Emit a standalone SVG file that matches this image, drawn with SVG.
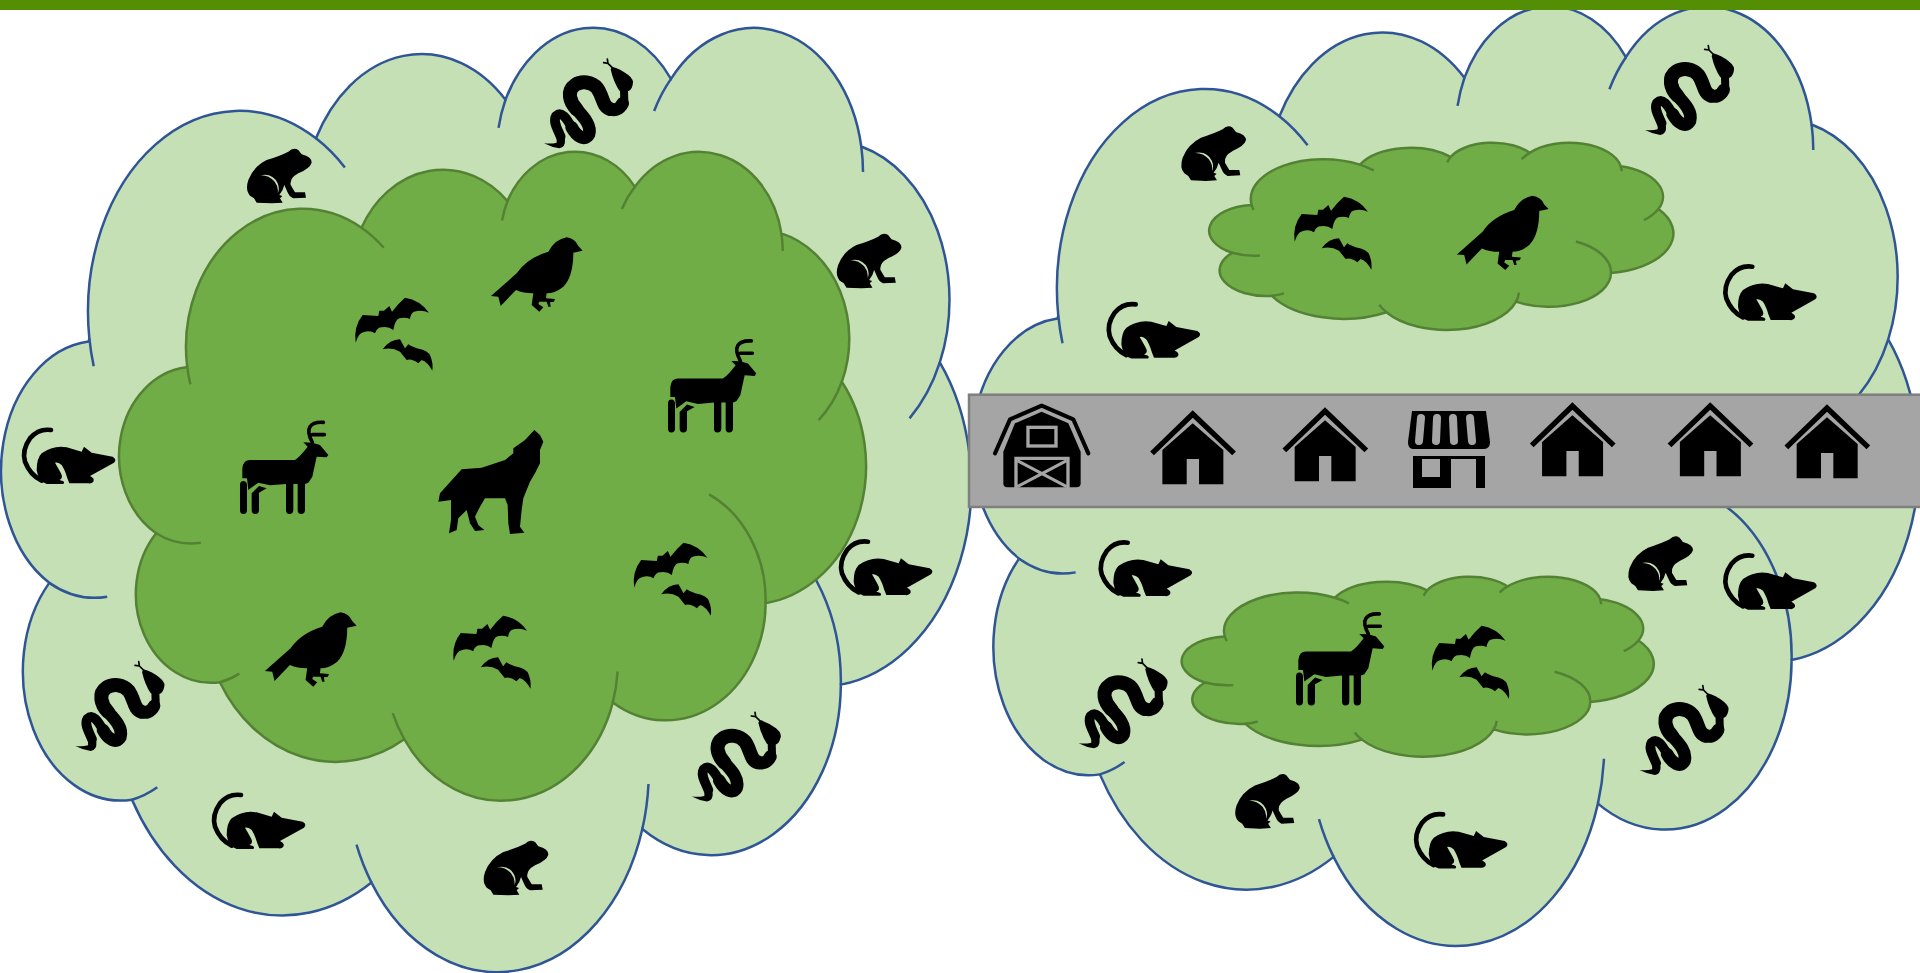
<svg xmlns="http://www.w3.org/2000/svg" xmlns:xlink="http://www.w3.org/1999/xlink" width="1920" height="973" viewBox="0 0 1920 973">
<style>
.cl path{vector-effect:non-scaling-stroke;stroke-width:2.5}
.cl .ln{fill:none}
.outer{fill:#C5E0B4;stroke:#2F5597}
.inner{fill:#70AD47;stroke:#548235}
.k{fill:#000;fill-rule:evenodd}
.ks{fill:none;stroke:#000;stroke-linecap:round;stroke-linejoin:round}
.gs{fill:none;stroke:#A5A5A5}
</style>
<defs>
<g id="cloud" class="cl">
<path d="M3900,14370A6753 9190 0 0 1 14002,5200A5333 7267 0 0 1 22453,3430A4365 5945 0 0 1 29830,2479A4857 6595 0 0 1 38314,5576A5333 7273 0 0 1 41815,15459A6775 9220 0 0 1 37402,30203A5785 7867 0 0 1 28553,36813A6752 9215 0 0 1 16477,39263A7720 10543 0 0 1 5801,35468A4360 5918 0 0 1 2112,25545A4345 5945 0 0 1 3861,14500Z"/>
<path class="ln" d="M4693,26177A4345 5945 0 0 1 2112,25545M6928,34899A4360 5918 0 0 1 5801,35468M16477,39263A6752 9215 0 0 1 15809,37524M28827,34751A6752 9215 0 0 1 28553,36813M34129,22954A5785 7867 0 0 1 37402,30203M41815,15459A5333 7273 0 0 1 40466,18017M38314,5576A4857 6595 0 0 1 38391,6745M29078,3952A4857 6595 0 0 1 29830,2479M22141,4720A4365 5945 0 0 1 22453,3430M14002,5200A6753 9190 0 0 1 15291,6534M4094,15634A6753 9190 0 0 1 3900,14370"/>
</g>
<g id="snake" transform="scale(.3333)">
<path class="k" d="M276,80Q300,86 325,105Q344,120 338,135Q334,152 322,154L298,152Q280,125 272,88Z"/>
<path class="ks" stroke-width="5" d="M276,82L264,70L262,57M264,70L251,68"/>
<path class="ks" stroke-width="24" d="M312,150L313,185"/>
<path class="ks" stroke-width="38" d="M308,190C298,210 282,212 270,207"/>
<path class="ks" stroke-width="42" d="M270,207C247,200 250,170 232,145C215,125 185,122 165,135C140,152 148,185 170,208"/>
<path class="ks" stroke-width="38" d="M170,208C190,230 215,255 207,283C195,305 170,290 155,262"/>
<path class="ks" stroke-width="29" d="M155,262C140,235 125,212 108,228C98,245 112,265 122,290"/>
<path class="k" d="M110,280L135,298Q137,322 118,325Q95,322 72,310Q95,312 110,308Z"/>
</g>
<g id="frog" transform="scale(.3333)">
<path class="k" d="M175,65Q190,50 205,60L215,73Q245,80 245,98Q240,115 205,130Q178,145 182,165L195,187L225,187L228,203L190,205Q178,200 172,185L163,165Q160,180 148,195L157,198L150,205L158,218L125,220L80,218L72,205L60,197Q45,180 55,150Q70,110 110,90Q150,78 175,65ZM90,136Q128,128 143,160Q150,178 143,190Q147,172 133,154Q115,134 90,136Z"/>
</g>
<g id="rat" transform="scale(.3333)">
<path class="ks" stroke-width="14" d="M123,60Q85,55 60,85Q35,120 45,155Q60,195 95,212"/>
<path class="k" d="M95,130Q130,105 170,112L215,125L222,110L245,128L308,140Q322,148 312,158L240,198Q255,205 250,215Q245,222 235,220L178,220L172,205Q165,180 155,165Q145,155 135,158Q145,175 152,188Q162,205 148,210Q168,213 160,222L110,222Q85,215 80,180Q80,145 95,130Z"/>
</g>
<g id="bat" transform="scale(.3333)">
<path class="k" d="M47,188Q40,140 68,105L115,108L118,92L132,92L148,78L156,95Q175,70 195,53Q240,60 267,98Q245,88 222,95Q212,100 210,117Q195,110 178,115Q165,120 160,150Q145,138 125,142Q112,142 105,160Q90,150 70,157Q55,160 47,188Z"/>
<path class="k" d="M128,208Q150,178 180,178L195,205L205,193L212,197L230,205Q265,210 272,230Q280,250 277,272Q262,245 245,240L235,250Q215,235 200,240L180,215Q155,200 128,208Z"/>
</g>
<g id="bird" transform="scale(.3333)">
<path class="k" d="M33,198L110,130Q140,85 205,65Q225,28 260,22Q285,25 295,48L308,62L280,68Q280,140 250,170Q225,190 200,190L198,205L225,207L222,215L210,217L212,230L205,230L200,215L178,215L175,222L190,232L178,245L155,225L160,190Q130,190 108,180L62,228L55,200Z"/>
</g>
<g id="deer" transform="scale(.3333)">
<path class="k" d="M52,175Q55,150 75,150L210,150Q225,140 248,110L235,97L262,98L285,105L310,135L305,142L275,140L262,200L250,218L240,222L240,300Q240,312 228,312Q218,312 218,300L218,222L205,222L205,300Q205,312 193,312Q183,312 183,300L183,222L135,226L100,218L70,240L66,205L52,205Z"/>
<path class="k" d="M45,225Q45,213 55,213Q65,213 66,225L66,300Q66,312 55,312Q45,312 45,300Z"/>
<path class="k" d="M80,250L102,228L125,235L102,248L102,300Q102,312 91,312Q80,312 80,300Z"/>
<path class="ks" stroke-width="11" d="M262,97Q245,65 255,50Q265,35 295,37M262,74L298,74"/>
</g>
<g id="wolf" transform="scale(.3333)">
<path class="k" d="M328,30L345,45L355,65L345,90L345,130L330,160L315,185L295,235L290,270L285,320L298,338L255,342L250,310L248,255L240,235L180,235L165,260L150,290L160,315L178,330L150,333L135,310L125,270L100,295L95,330L72,340L78,300L78,240L40,245L45,220L110,148L170,143L240,120L265,100L265,85L300,60Z"/>
</g>
<g id="house" transform="scale(.3333)">
<path fill="none" stroke="#000" stroke-width="16" d="M-122,128L0,10L124,128"/>
<path class="k" d="M-91,221L-91,118L0,38L92,118L92,221L19,221L19,145L-18,145L-18,221Z"/>
</g>
</defs>
<g id="cloud-left">
<use xlink:href="#cloud" href="#cloud" class="outer" transform="matrix(.02243 0 0 .02185 1.9 24.7)"/>
<use xlink:href="#cloud" href="#cloud" class="inner" transform="matrix(.01727 0 0 .015017 119.7 149.6)"/>
</g>
<g id="cloud-right">
<use xlink:href="#cloud" href="#cloud" class="outer" transform="matrix(.02189 0 0 .02174 972.9 3.3)"/>
<use xlink:href="#cloud" href="#cloud" class="inner" transform="matrix(.010732 0 0 .004334 1209.6 142.1)"/>
<use xlink:href="#cloud" href="#cloud" class="inner" transform="matrix(.010914 0 0 .004165 1182.1 576.1)"/>
</g>
<rect id="top-bar" x="0" y="0" width="1920" height="10" fill="#548E04"/>
<g id="snakes">
<use href="#snake" transform="translate(520 40)"/>
<use href="#snake" transform="translate(51.4 642.7)"/>
<use href="#snake" transform="translate(667.7 693.3)"/>
<use href="#snake" transform="translate(1621 26.7)"/>
<use href="#snake" transform="translate(1054.6 640)"/>
<use href="#snake" transform="translate(1615.5 666.7)"/>
</g>
<g id="frogs">
<use href="#frog" transform="translate(230 130)"/>
<use href="#frog" transform="translate(819.8 215)"/>
<use href="#frog" transform="translate(466.7 822)"/>
<use href="#frog" transform="translate(1164.3 107.7)"/>
<use href="#frog" transform="translate(1611.3 517.7)"/>
<use href="#frog" transform="translate(1218.2 755.4)"/>
</g>
<g id="rats">
<use href="#rat" transform="translate(10 410)"/>
<use href="#rat" transform="translate(827 521.7)"/>
<use href="#rat" transform="translate(200 775)"/>
<use href="#rat" transform="translate(1094.7 284.4)"/>
<use href="#rat" transform="translate(1711.3 246.7)"/>
<use href="#rat" transform="translate(1086.7 522.7)"/>
<use href="#rat" transform="translate(1711.3 535.7)"/>
<use href="#rat" transform="translate(1402.1 794.4)"/>
</g>
<g id="bats">
<use href="#bat" transform="translate(340 280)"/>
<use href="#bat" transform="translate(618.5 525)"/>
<use href="#bat" transform="translate(438.1 598)"/>
<use href="#bat" transform="translate(1279 179)"/>
<use href="#bat" transform="translate(1416.6 608)"/>
</g>
<g id="birds">
<use href="#bird" transform="translate(480 230)"/>
<use href="#bird" transform="translate(253.9 605)"/>
<use href="#bird" transform="translate(1445.9 188.4)"/>
</g>
<g id="deer-group">
<use href="#deer" transform="translate(225 410)"/>
<use href="#deer" transform="translate(653 328.6)"/>
<use href="#deer" transform="translate(1281 601.6)"/>
</g>
<use id="wolf-1" href="#wolf" transform="translate(425 420)"/>
<g id="settlement">
<rect x="969" y="394.7" width="960" height="112.3" fill="#A5A5A5" stroke="#7F7F7F" stroke-width="2.5"/>
<g id="barn" transform="translate(960 390) scale(.3333)">
<path class="ks" stroke-width="12" d="M105,190L150,88L245,47L340,88L385,190"/>
<path class="k" d="M130,280V185L165,100L245,65L325,100L362,185V280Q362,292 350,292H142Q130,292 130,280Z"/>
<rect class="gs" stroke-width="10" x="204" y="112" width="84" height="56"/>
<path class="gs" stroke-width="10" d="M168,294V205H324V294"/>
<path class="gs" stroke-width="9" d="M172,212L320,290M320,212L172,290"/>
</g>
<use href="#house" transform="translate(1192.7 410.7)"/>
<use href="#house" transform="translate(1325 407.7)"/>
<g id="store">
<path class="k" d="M1412,411H1486L1490,442Q1490,449 1484,449H1413Q1408,449 1408,442Z"/>
<path class="gs" stroke-width="8" stroke-linecap="round" d="M1421,418L1419,441M1437,418L1436,441M1453,418L1454,441M1470,418L1472,441"/>
<path class="k" d="M1413,456H1485V488H1476V459H1451V488H1413ZM1422,459V477H1440V459Z"/>
</g>
<use href="#house" transform="translate(1572.4 402.7)"/>
<use href="#house" transform="translate(1710.2 402.7)"/>
<use href="#house" transform="translate(1827 404.7)"/>
</g>
</svg>
